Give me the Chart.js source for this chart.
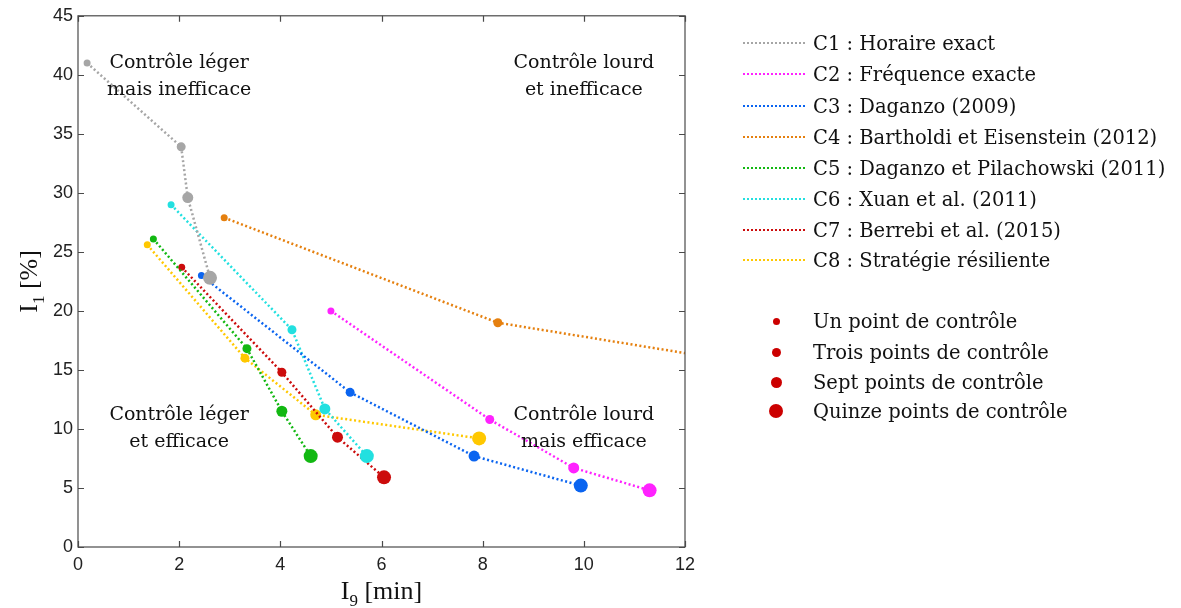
<!DOCTYPE html>
<html>
<head>
<meta charset="utf-8">
<script src="https://cdn.jsdelivr.net/npm/chart.js@4"></script>
<style>
  body { margin: 0; background: #fff; }
  #wrap { position: relative; width: 1181px; height: 608px; }
  #legend { position: absolute; left: 0; top: 0; font-family: "DejaVu Serif", serif; font-size: 19.5px; color: #111; }
  .row { position: absolute; left: 743px; height: 30px; display: flex; align-items: center; white-space: nowrap; }
  .ln { width: 64px; height: 2px; margin-right: 6px; }
  .mk { position: absolute; border-radius: 50%; background: #cc0000; }
</style>
</head>
<body>
<div id="wrap">
  <canvas id="myChart" width="1181" height="608"></canvas>
  <div id="legend"></div>
</div>
<script>
// series labels and colours
var seriesNames = ['C1 : Horaire exact', 'C2 : Fréquence exacte', 'C3 : Daganzo (2009)',
    'C4 : Bartholdi et Eisenstein (2012)', 'C5 : Daganzo et Pilachowski (2011)',
    'C6 : Xuan et al. (2011)', 'C7 : Berrebi et al. (2015)', 'C8 : Stratégie résiliente'];
var seriesColors = ['#a6a6a6', '#ff22ff', '#0a64f0', '#e5800f', '#12b812', '#22e0e0', '#cc0c0c', '#ffc800'];

// I9 [min] values, 1 / 3 / 7 / 15 control points
var c1X = [0.18, 2.04, 2.17, 2.61];
var c2X = [5.00, 8.14, 9.80, 11.30];
var c3X = [2.44, 5.38, 7.83, 9.94];
var c4X = [2.89, 8.30, 15.2, 19.5];
var c5X = [1.49, 3.34, 4.03, 4.60];
var c6X = [1.84, 4.23, 4.88, 5.71];
var c7X = [2.05, 4.03, 5.13, 6.05];
var c8X = [1.37, 3.30, 4.70, 7.93];

// I1 [%] values
var c1Y = [41.0, 33.9, 29.6, 22.8];
var c2Y = [20.0, 10.8, 6.7, 4.8];
var c3Y = [23.0, 13.1, 7.7, 5.2];
var c4Y = [27.9, 19.0, 14.2, 11.5];
var c5Y = [26.1, 16.8, 11.5, 7.7];
var c6Y = [29.0, 18.4, 11.7, 7.7];
var c7Y = [23.7, 14.8, 9.3, 5.9];
var c8Y = [25.6, 16.0, 11.2, 9.2];

var controlLabels = ['Un point de contrôle', 'Trois points de contrôle', 'Sept points de contrôle', 'Quinze points de contrôle'];
var pointSizes = [3.5, 4.5, 5.5, 7];

var xTicks = [0, 2, 4, 6, 8, 10, 12];
var yTicks = [0, 5, 10, 15, 20, 25, 30, 35, 40, 45];

var quadrants = [
    { x: 2, y: 41.0, lines: ['Contrôle léger', 'mais inefficace'] },
    { x: 10, y: 41.0, lines: ['Contrôle lourd', 'et inefficace'] },
    { x: 2, y: 11.2, lines: ['Contrôle léger', 'et efficace'] },
    { x: 10, y: 11.2, lines: ['Contrôle lourd', 'mais efficace'] }
];

var allX = [c1X, c2X, c3X, c4X, c5X, c6X, c7X, c8X];
var allY = [c1Y, c2Y, c3Y, c4Y, c5Y, c6Y, c7Y, c8Y];

var datasets = seriesNames.map(function(name, i) {
    return {
        label: name,
        data: allX[i].map(function(v, j) { return { x: v, y: allY[i][j] }; }),
        showLine: true,
        borderColor: seriesColors[i],
        backgroundColor: seriesColors[i],
        borderWidth: 2.5,
        borderDash: [2, 2.5],
        pointRadius: pointSizes,
        pointHoverRadius: pointSizes,
        pointBorderWidth: 0,
        clip: 0
    };
});

var serif = '"DejaVu Serif", serif';

function drawSubLabel(ctx, base, sub, rest, size, family) {
    ctx.font = size + 'px ' + family;
    var w1 = ctx.measureText(base).width;
    var w3 = ctx.measureText(rest).width;
    ctx.font = Math.round(size * 0.65) + 'px ' + family;
    var w2 = ctx.measureText(sub).width;
    var total = w1 + w2 + w3;
    var x0 = -total / 2;
    ctx.textAlign = 'left';
    ctx.textBaseline = 'alphabetic';
    ctx.font = size + 'px ' + family;
    ctx.fillText(base, x0, 0);
    ctx.font = Math.round(size * 0.65) + 'px ' + family;
    ctx.fillText(sub, x0 + w1, size * 0.25);
    ctx.font = size + 'px ' + family;
    ctx.fillText(rest, x0 + w1 + w2, 0);
}

var framePlugin = {
    id: 'frame',
    afterDatasetsDraw: function(chart) {
        var ctx = chart.ctx, a = chart.chartArea, xs = chart.scales.x, ys = chart.scales.y;
        ctx.save();
        // quadrant notes
        ctx.fillStyle = '#111';
        ctx.font = '19px ' + serif;
        ctx.textAlign = 'center';
        ctx.textBaseline = 'middle';
        quadrants.forEach(function(q) {
            var px = xs.getPixelForValue(q.x);
            var py = ys.getPixelForValue(q.y);
            ctx.fillText(q.lines[0], px, py);
            ctx.fillText(q.lines[1], px, py + 27);
        });
        // box + inward ticks
        ctx.strokeStyle = '#4a4a4a';
        ctx.lineWidth = 1.2;
        ctx.strokeRect(a.left, a.top, a.right - a.left, a.bottom - a.top);
        ctx.beginPath();
        xTicks.forEach(function(v) {
            var px = Math.round(xs.getPixelForValue(v)) + 0.5;
            ctx.moveTo(px, a.bottom); ctx.lineTo(px, a.bottom - 6);
            ctx.moveTo(px, a.top); ctx.lineTo(px, a.top + 6);
        });
        yTicks.forEach(function(v) {
            var py = Math.round(ys.getPixelForValue(v)) + 0.5;
            ctx.moveTo(a.left, py); ctx.lineTo(a.left + 6, py);
            ctx.moveTo(a.right, py); ctx.lineTo(a.right - 6, py);
        });
        ctx.stroke();
        // axis titles
        ctx.fillStyle = '#111';
        ctx.save();
        ctx.translate((a.left + a.right) / 2, 599);
        drawSubLabel(ctx, 'I', '9', ' [min]', 26, '"Liberation Serif", serif');
        ctx.restore();
        ctx.save();
        ctx.translate(37, (a.top + a.bottom) / 2);
        ctx.rotate(-Math.PI / 2);
        drawSubLabel(ctx, 'I', '1', ' [%]', 26, '"Liberation Serif", serif');
        ctx.restore();
        ctx.restore();
    }
};

var ctx = document.getElementById('myChart').getContext('2d');
var myChart = new Chart(ctx, {
    type: 'scatter',
    data: { datasets: datasets },
    options: {
        responsive: false,
        animation: false,
        events: [],
        layout: { padding: { top: 15, right: 496, left: 0, bottom: 0 } },
        plugins: { legend: { display: false }, tooltip: { enabled: false } },
        scales: {
            x: {
                type: 'linear', min: 0, max: 12,
                afterBuildTicks: function(s) { s.ticks = xTicks.map(function(v) { return { value: v }; }); },
                afterFit: function(s) { s.height = 61; },
                grid: { display: false, drawTicks: false },
                border: { display: false },
                ticks: { padding: 7, color: '#222', font: { family: '"Liberation Sans", Arial, sans-serif', size: 18 } }
            },
            y: {
                type: 'linear', min: 0, max: 45,
                afterBuildTicks: function(s) { s.ticks = yTicks.map(function(v) { return { value: v }; }); },
                afterFit: function(s) { s.width = 78; },
                grid: { display: false, drawTicks: false },
                border: { display: false },
                ticks: { padding: 5, color: '#222', font: { family: '"Liberation Sans", Arial, sans-serif', size: 18 } }
            }
        }
    },
    plugins: [framePlugin]
});

// legend on the right
var legend = document.getElementById('legend');
var rowY = [43, 74, 106, 137, 168, 199, 230, 260];
seriesNames.forEach(function(name, i) {
    var row = document.createElement('div');
    row.className = 'row';
    row.style.top = (rowY[i] - 15) + 'px';
    var ln = document.createElement('span');
    ln.className = 'ln';
    ln.style.background = 'repeating-linear-gradient(to right, ' + seriesColors[i] + ' 0 2px, transparent 2px 4px)';
    row.appendChild(ln);
    row.appendChild(document.createTextNode(name));
    legend.appendChild(row);
});
var mkY = [321, 352, 382, 411];
controlLabels.forEach(function(name, i) {
    var mk = document.createElement('span');
    mk.className = 'mk';
    var d = pointSizes[i] * 2;
    mk.style.width = d + 'px';
    mk.style.height = d + 'px';
    mk.style.left = (776 - d / 2) + 'px';
    mk.style.top = (mkY[i] - d / 2) + 'px';
    legend.appendChild(mk);
    var row = document.createElement('div');
    row.className = 'row';
    row.style.left = '813px';
    row.style.top = (mkY[i] - 15) + 'px';
    row.appendChild(document.createTextNode(name));
    legend.appendChild(row);
});
</script>
</body>
</html>
